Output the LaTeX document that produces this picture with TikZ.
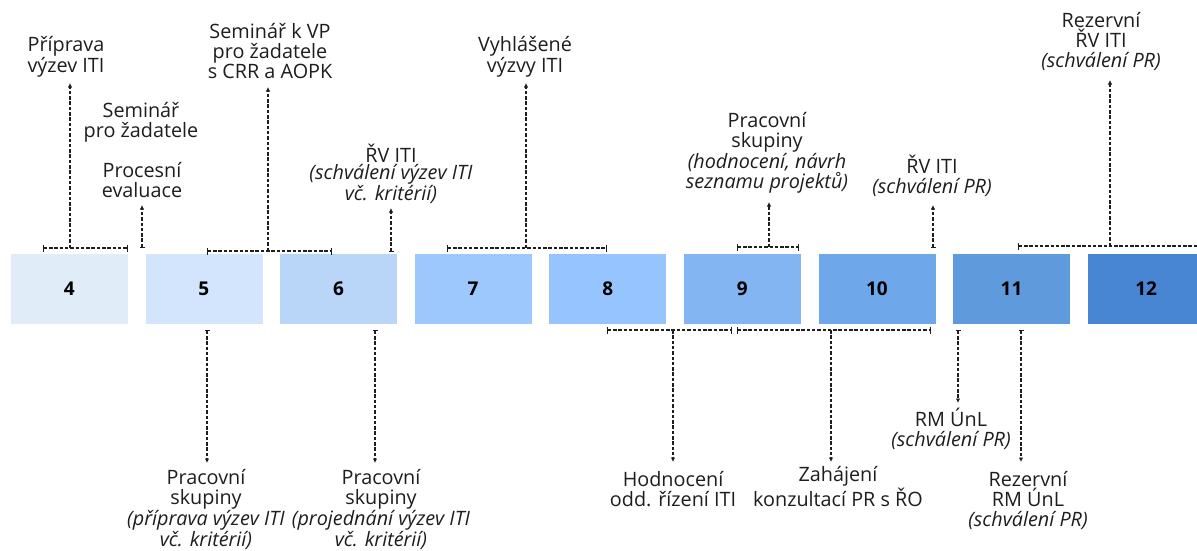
\documentclass[tikz,border=0pt]{standalone}
\usepackage{fontspec}
\setmainfont{Open Sans}
\usetikzlibrary{arrows.meta}
\definecolor{c4}{HTML}{E1ECF9}
\definecolor{c5}{HTML}{D3E5FC}
\definecolor{c6}{HTML}{B9D6F8}
\definecolor{c7}{HTML}{9DC8FD}
\definecolor{c8}{HTML}{96C4FE}
\definecolor{c9}{HTML}{82B5F2}
\definecolor{c10}{HTML}{6EA8EB}
\definecolor{c11}{HTML}{5F9ADC}
\definecolor{c12}{HTML}{4886D4}
\definecolor{ink}{HTML}{1E1E1E}
\begin{document}
\begin{tikzpicture}[x=1pt,y=-1pt,
  box/.style={draw=white, line width=0.6pt, minimum width=118pt, minimum height=71pt, inner sep=0pt, anchor=north west, font=\bfseries\fontsize{19}{20}\selectfont, text=black},
  lbl/.style={align=center, anchor=base, inner sep=0pt, font=\fontsize{19.8}{19.6}\selectfont, text=ink},
  tight/.style={font=\fontsize{19.8}{17}\selectfont},
  con/.style={line width=1.1pt, dash pattern=on 3.5pt off 1.8pt, draw=ink},
  upar/.style={con, -{Latex[length=4.5pt,width=4.5pt]}},
  upbar/.style={con, {Bar[width=5pt,line width=1pt]}-{Latex[length=4.5pt,width=4.5pt]}},
  brk/.style={con, {Bar[width=7pt,line width=1pt]}-{Bar[width=7pt,line width=1pt]}}]
\useasboundingbox (0,0) rectangle (1197,550);
\fill[white] (0,0) rectangle (1197,550);
% boxes
\node[box, fill=c4]  (b4)  at (10,253)     {4};
\node[box, fill=c5]  (b5)  at (144.6,253)  {5};
\node[box, fill=c6]  (b6)  at (279.2,253)  {6};
\node[box, fill=c7]  (b7)  at (413.8,253)  {7};
\node[box, fill=c8]  (b8)  at (548.4,253)  {8};
\node[box, fill=c9]  (b9)  at (683,253)    {9};
\node[box, fill=c10] (b10) at (817.6,253)  {10};
\node[box, fill=c11] (b11) at (952.2,253)  {11};
\node[box, fill=c12] (b12) at (1086.8,253) {12};
% labels above (anchor = baseline of last line)
\node[lbl] (t1) at (66,72) {Příprava\\výzev ITI};
\node[lbl] (t2) at (141,137) {Seminář\\pro žadatele};
\node[lbl] (t3) at (142,197) {Procesní\\evaluace};
\node[lbl] (t4) at (270,78) {Seminář k VP\\pro žadatele\\s CRR a AOPK};
\node[lbl,tight] (t5) at (391,200) {ŘV ITI\\\itshape(schválení výzev ITI\\\itshape vč. kritérií)};
\node[lbl] (t6) at (525,72) {Vyhlášené\\výzvy ITI};
\node[lbl] (t7) at (767,188) {Pracovní\\skupiny\\\itshape(hodnocení, návrh\\\itshape seznamu projektů)};
\node[lbl] (t8) at (932,193) {ŘV ITI\\\itshape(schválení PR)};
\node[lbl] (t9) at (1101,67) {Rezervní\\ŘV ITI\\\itshape(schválení PR)};
% labels below
\node[lbl] (t10) at (206,546) {Pracovní\\skupiny\\\itshape(příprava výzev ITI\\\itshape vč. kritérií)};
\node[lbl] (t11) at (381,546) {Pracovní\\skupiny\\\itshape(projednání výzev ITI\\\itshape vč. kritérií)};
\node[lbl] (t12) at (673,506) {Hodnocení\\odd. řízení ITI};
\node[lbl] (t13) at (838,506) {Zahájení\\konzultací PR s ŘO};
\node[lbl] (t14) at (951,446) {RM ÚnL\\\itshape(schválení PR)};
\node[lbl] (t15) at (1028,526) {Rezervní\\RM ÚnL\\\itshape(schválení PR)};
% bracket coordinates
\coordinate (A1) at (43,248);   \coordinate (A2) at (128,248);
\coordinate (B1) at (207,251);  \coordinate (B2) at (332,251);
\coordinate (C1) at (447,248);  \coordinate (C2) at (607,248);
\coordinate (D1) at (737,247);  \coordinate (D2) at (799,247);
\coordinate (E1) at (1018,246); \coordinate (E2) at (1215,246);
\coordinate (F1) at (607,330);  \coordinate (F2) at (732,330);
\coordinate (G1) at (737,330);  \coordinate (G2) at (931,330);
% connector endpoints
\coordinate (a1s) at (70,248);   \coordinate (a1e) at (70,83);
\coordinate (a2s) at (142,248);  \coordinate (a2e) at (142,205);
\coordinate (a3s) at (268,251);  \coordinate (a3e) at (268,87);
\coordinate (a4s) at (391,252);  \coordinate (a4e) at (391,208);
\coordinate (a5s) at (526,248);  \coordinate (a5e) at (526,83);
\coordinate (a6s) at (769,247);  \coordinate (a6e) at (769,202);
\coordinate (a7s) at (933,248);  \coordinate (a7e) at (933,205);
\coordinate (a8s) at (1110,246); \coordinate (a8e) at (1110,80);
\coordinate (a9s) at (207,330);  \coordinate (a9e) at (207,463);
\coordinate (a10s) at (375,330); \coordinate (a10e) at (375,463);
\coordinate (a11s) at (673,330); \coordinate (a11e) at (673,462);
\coordinate (a12s) at (831,330); \coordinate (a12e) at (831,462);
\coordinate (a13s) at (958,330); \coordinate (a13e) at (958,403);
\coordinate (a14s) at (1021,330);\coordinate (a14e) at (1021,462);
% brackets
\draw[brk] (A1) -- (A2);
\draw[brk] (B1) -- (B2);
\draw[brk] (C1) -- (C2);
\draw[brk] (D1) -- (D2);
\draw[brk] (E1) -- (E2);
\draw[brk] (F1) -- (F2);
\draw[brk] (G1) -- (G2);
% connectors
\draw[upar]  (a1s) -- (a1e);
\draw[upbar] (a2s) -- (a2e);
\draw[upar]  (a3s) -- (a3e);
\draw[upbar] (a4s) -- (a4e);
\draw[upar]  (a5s) -- (a5e);
\draw[upar]  (a6s) -- (a6e);
\draw[upbar] (a7s) -- (a7e);
\draw[upar]  (a8s) -- (a8e);
\draw[upbar] (a9s) -- (a9e);
\draw[upbar] (a10s) -- (a10e);
\draw[upar]  (a11s) -- (a11e);
\draw[upar]  (a12s) -- (a12e);
\draw[upbar] (a13s) -- (a13e);
\draw[upbar] (a14s) -- (a14e);
\end{tikzpicture}
\end{document}
